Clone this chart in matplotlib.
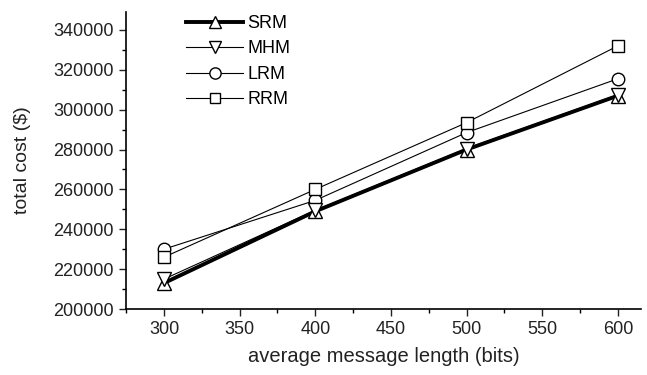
import matplotlib
matplotlib.use("Agg")
import matplotlib.pyplot as plt
from matplotlib.ticker import MultipleLocator

plt.rcParams['font.family'] = ['Liberation Sans', 'DejaVu Sans']

lengths = [300, 400, 500, 600]
srm = [213000, 249000, 280000, 307000]
mhm = [215000, 249500, 280500, 307500]
lrm = [230000, 254500, 288500, 315500]
rrm = [226000, 260000, 293500, 332000]

fig = plt.figure(figsize=(6.47, 3.75), dpi=100)
ax = fig.add_axes([0.195, 0.176, 0.795, 0.792])

ax.plot(lengths, srm, color="black", lw=2.8, marker="^", ms=10,
        mfc="white", mec="black", mew=1.0, label="SRM", zorder=3)
ax.plot(lengths, mhm, color="black", lw=0.8, marker="v", ms=10,
        mfc="white", mec="black", mew=1.0, label="MHM", zorder=4)
ax.plot(lengths, lrm, color="black", lw=0.8, marker="o", ms=9,
        mfc="white", mec="black", mew=1.0, label="LRM")
ax.plot(lengths, rrm, color="black", lw=0.8, marker="s", ms=8.5,
        mfc="white", mec="black", mew=1.0, label="RRM")

ax.set_xlim(275, 615)
ax.set_ylim(200000, 349000)
ax.xaxis.set_major_locator(MultipleLocator(50))
ax.xaxis.set_minor_locator(MultipleLocator(25))
ax.yaxis.set_major_locator(MultipleLocator(20000))
ax.yaxis.set_minor_locator(MultipleLocator(10000))
ax.tick_params(which="major", direction="out", length=5, width=1, labelsize=13,
               colors="#222222", pad=4)
ax.tick_params(which="minor", direction="out", length=3, width=1)

for s in ["top", "right"]:
    ax.spines[s].set_visible(False)
for s in ["left", "bottom"]:
    ax.spines[s].set_linewidth(1.2)

ax.set_xlabel("average message length (bits)", fontsize=14.5, color="#222222", labelpad=6)
ax.set_ylabel("total cost ($)", fontsize=14, color="#222222", labelpad=16)

ax.legend(loc="upper left", bbox_to_anchor=(0.084, 1.045), frameon=False,
          fontsize=13, handlelength=3.2, handletextpad=0.22, labelspacing=0.47,
          markerscale=0.9)

fig.savefig("out.png", dpi=100)
